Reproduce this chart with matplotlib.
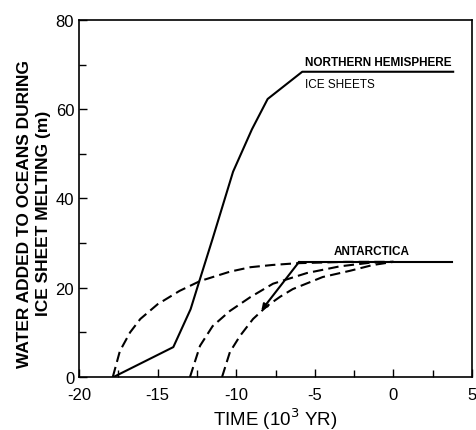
import matplotlib.pyplot as plt
from matplotlib.ticker import MultipleLocator

plt.rcParams['font.family'] = ['Liberation Sans Narrow', 'Liberation Sans', 'DejaVu Sans']
plt.rcParams['axes.unicode_minus'] = False

# Northern hemisphere ice sheets (solid)
nh_x = [-17.8, -14.0, -12.9, -12.3, -11.5, -10.2, -9.0, -8.0, -5.8, 3.8]
nh_y = [0, 6.7, 15.2, 22.0, 31.0, 46.0, 55.5, 62.3, 68.4, 68.4]

# Antarctica (solid)
ant_x = [-6.0, 3.7]
ant_y = [25.8, 25.8]
ant_arrow_start = (-6.0, 25.8)
ant_arrow_end = (-8.4, 14.9)

# Antarctica alternative curves (dashed)
d1_x = [-17.85, -17.4, -16.75, -16.1, -15.0, -13.6, -12.3, -10.4, -9.1, -7.7, -6.1, -3.0, 0.0]
d1_y = [0, 5.8, 10.0, 13.0, 16.3, 19.3, 21.5, 23.6, 24.6, 25.1, 25.5, 25.8, 25.8]
d2_x = [-12.94, -12.3, -11.5, -10.4, -9.1, -7.66, -5.5, -3.4, -1.5, 0.0]
d2_y = [0, 7.0, 11.4, 14.8, 17.9, 20.9, 23.3, 24.8, 25.6, 25.8]
d3_x = [-10.9, -10.4, -9.76, -8.93, -8.04, -7.2, -6.4, -4.5, -2.76, -1.3, 0.0]
d3_y = [0, 5.6, 9.2, 13.0, 15.9, 18.0, 19.7, 22.4, 23.8, 25.1, 25.8]

fig = plt.figure(figsize=(4.77, 4.31), dpi=100)
ax = fig.add_axes([0.1656, 0.123, 0.824, 0.8283])

ax.plot(nh_x, nh_y, color='black', lw=1.5)
ax.plot(ant_x, ant_y, color='black', lw=1.5)
ax.annotate('', xy=ant_arrow_end, xytext=ant_arrow_start,
            arrowprops=dict(arrowstyle='-|>', color='black', lw=1.5,
                            mutation_scale=9, shrinkA=0, shrinkB=0))
for xs, ys in [(d1_x, d1_y), (d2_x, d2_y), (d3_x, d3_y)]:
    ax.plot(xs, ys, color='black', lw=1.5, dashes=(5, 2.5))

ax.text(-5.6, 69.3, 'NORTHERN HEMISPHERE', fontsize=8.5, fontweight='bold', va='bottom')
ax.text(-5.6, 67.0, 'ICE SHEETS', fontsize=8.5, va='top')
ax.text(-1.4, 26.8, 'ANTARCTICA', fontsize=8.5, fontweight='bold', ha='center', va='bottom')

ax.set_xlim(-20, 5)
ax.set_ylim(0, 80)
ax.xaxis.set_major_locator(MultipleLocator(5))
ax.xaxis.set_minor_locator(MultipleLocator(2.5))
ax.yaxis.set_major_locator(MultipleLocator(20))
ax.yaxis.set_minor_locator(MultipleLocator(10))
ax.tick_params(which='both', direction='in', labelsize=12, width=1)
ax.tick_params(axis='x', pad=7)
ax.tick_params(which='major', length=6)
ax.tick_params(which='minor', length=5)
for s in ax.spines.values():
    s.set_linewidth(1.2)

ax.set_xlabel('TIME (10$^3$ YR)', fontsize=13.5, labelpad=3)
ax.set_ylabel('WATER ADDED TO OCEANS DURING\nICE SHEET MELTING (m)', fontsize=12.5,
              fontweight='bold', linespacing=1.35)
ax.yaxis.set_label_coords(-0.07, 0.46)

fig.savefig('out.png', dpi=100)
